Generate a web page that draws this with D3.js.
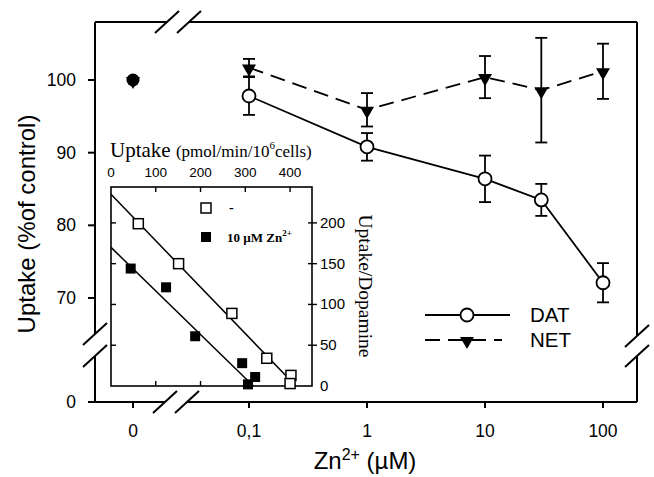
<!DOCTYPE html>
<html>
<head>
<meta charset="utf-8">
<title>Zn2+ uptake</title>
<script src="https://d3js.org/d3.v7.min.js"></script>
<style>
  body { margin: 0; background: #fff; }
  text { fill: #000; }
</style>
</head>
<body>
<div id="chart"></div>
<script>
// ---- data ----
const conc = [0.1, 1, 10, 30, 100];
const datMean = [97.8, 90.8, 86.4, 83.5, 72.1];
const datErr  = [2.6, 1.9, 3.2, 2.2, 2.7];
const netMean = [101.7, 95.9, 100.4, 98.6, 101.2];
const netErr  = [1.2, 2.3, 2.9, 7.2, 3.8];
const controlValue = 100;   // plotted at Zn = 0

const yTicks = [70, 80, 90, 100];
const xTicks = [0.1, 1, 10, 100];
const xTickLabels = ["0,1", "1", "10", "100"];

// inset: Eadie-Hofstee plot
const openUptake   = [61, 151, 270, 348, 402, 400];
const openRatio    = [199, 150, 89, 34, 13, 3];
const filledUptake = [44, 123, 188, 293, 322, 306];
const filledRatio  = [144, 121, 61, 28, 11, 2];
const openFit   = [[0, 235], [413, 0]];
const filledFit = [[0, 170], [318, 0]];
const insetXTicks = [0, 100, 200, 300, 400];
const insetYTicks = [0, 50, 100, 150, 200];

// ---- layout ----
const W = 654, H = 477;
const pLeft = 95, pRight = 637, pTop = 22, pBottom = 402;
const xZero = 133;

const svg = d3.select("#chart").append("svg")
  .attr("width", W).attr("height", H);

const x = d3.scaleLog().domain([0.1, 100]).range([249, 603]);
const y = d3.scaleLinear().domain([70, 100]).range([298, 80]);
const sans = "'Liberation Sans', Arial, sans-serif";
const serif = "'Liberation Serif', 'Times New Roman', serif";

// frame with breaks
const frame = svg.append("g").attr("stroke", "#000").attr("stroke-width", 2).attr("fill", "none");
const segs = [
  [[pLeft, pBottom], [pLeft, 356]], [[pLeft, 334], [pLeft, pTop]],
  [[pLeft, pTop], [167, pTop]], [[189, pTop], [pRight, pTop]],
  [[pRight, pTop], [pRight, 336]], [[pRight, 356], [pRight, pBottom]],
  [[88, pBottom], [165, pBottom]], [[187, pBottom], [pRight, pBottom]]
];
segs.forEach(s => frame.append("line")
  .attr("x1", s[0][0]).attr("y1", s[0][1]).attr("x2", s[1][0]).attr("y2", s[1][1]));
const breaks = [[167, pTop], [189, pTop], [165, pBottom], [187, pBottom],
                [pLeft, 334], [pLeft, 356], [pRight, 336], [pRight, 356]];
breaks.forEach(c => frame.append("line")
  .attr("x1", c[0] - 12).attr("y1", c[1] + 11).attr("x2", c[0] + 12).attr("y2", c[1] - 11));

// y ticks
const yAxis = svg.append("g");
yTicks.forEach(t => {
  yAxis.append("line").attr("x1", 88).attr("x2", pLeft).attr("y1", y(t)).attr("y2", y(t))
    .attr("stroke", "#000").attr("stroke-width", 2);
  yAxis.append("text").attr("x", 76).attr("y", y(t) + 6).attr("text-anchor", "end")
    .attr("font-family", sans).attr("font-size", 17.5).text(t);
});
yAxis.append("text").attr("x", 76).attr("y", pBottom + 6).attr("text-anchor", "end")
  .attr("font-family", sans).attr("font-size", 17.5).text("0");

// x ticks
const xAxis = svg.append("g");
[[xZero, "0"]].concat(xTicks.map((t, i) => [x(t), xTickLabels[i]])).forEach(d => {
  xAxis.append("line").attr("x1", d[0]).attr("x2", d[0]).attr("y1", pBottom).attr("y2", pBottom + 6)
    .attr("stroke", "#000").attr("stroke-width", 2);
  xAxis.append("text").attr("x", d[0]).attr("y", 437).attr("text-anchor", "middle")
    .attr("font-family", sans).attr("font-size", 17.5).text(d[1]);
});

// axis titles
svg.append("text").attr("transform", "translate(35,224) rotate(-90)")
  .attr("text-anchor", "middle").attr("font-family", sans).attr("font-size", 24)
  .text("Uptake (%of control)");
const xl = svg.append("text").attr("x", 365).attr("y", 469).attr("text-anchor", "middle")
  .attr("font-family", sans).attr("font-size", 24);
xl.append("tspan").text("Zn");
xl.append("tspan").attr("dy", -9).attr("font-size", 16).text("2+");
xl.append("tspan").attr("dy", 9).text(" (\u00b5M)");

// ---- inset ----
const ix = d3.scaleLinear().domain([0, 449]).range([111, 312]);
const iy = d3.scaleLinear().domain([0, 244]).range([386, 187]);
const inset = svg.append("g");
inset.append("rect").attr("x", 111).attr("y", 187).attr("width", 201).attr("height", 199)
  .attr("fill", "#fff").attr("stroke", "#000").attr("stroke-width", 1.6);

insetXTicks.forEach(t => {
  if (t > 0) {
    inset.append("line").attr("x1", ix(t)).attr("x2", ix(t)).attr("y1", 187).attr("y2", 192)
      .attr("stroke", "#000").attr("stroke-width", 1.4);
    inset.append("line").attr("x1", ix(t)).attr("x2", ix(t)).attr("y1", 386).attr("y2", 381)
      .attr("stroke", "#000").attr("stroke-width", 1.4);
  }
  inset.append("text").attr("x", ix(t)).attr("y", 177).attr("text-anchor", "middle")
    .attr("font-family", sans).attr("font-size", 13.5).text(t);
});
insetYTicks.forEach(t => {
  if (t > 0) {
    inset.append("line").attr("x1", 111).attr("x2", 116).attr("y1", iy(t)).attr("y2", iy(t))
      .attr("stroke", "#000").attr("stroke-width", 1.4);
    inset.append("line").attr("x1", 308).attr("x2", 317).attr("y1", iy(t)).attr("y2", iy(t))
      .attr("stroke", "#000").attr("stroke-width", 1.4);
  }
  inset.append("text").attr("x", 320).attr("y", iy(t) + 5)
    .attr("font-family", sans).attr("font-size", 15).text(t);
});

const it = inset.append("text").attr("x", 110).attr("y", 157).attr("font-family", serif).attr("font-size", 21);
it.append("tspan").text("Uptake ");
it.append("tspan").attr("font-size", 17).text("(pmol/min/10");
it.append("tspan").attr("font-size", 11).attr("dy", -8).text("6");
it.append("tspan").attr("font-size", 17).attr("dy", 8).text("cells)");

inset.append("text").attr("transform", "translate(359,286) rotate(90)")
  .attr("text-anchor", "middle").attr("font-family", serif).attr("font-size", 19.5)
  .text("Uptake/Dopamine");

const fitLine = d3.line().x(d => ix(d[0])).y(d => iy(d[1]));
[openFit, filledFit].forEach(f => inset.append("path").attr("d", fitLine(f))
  .attr("fill", "none").attr("stroke", "#000").attr("stroke-width", 1.5));

const sq = 10;
inset.selectAll(".fsq").data(d3.zip(filledUptake, filledRatio)).enter().append("rect")
  .attr("x", d => ix(d[0]) - sq / 2).attr("y", d => iy(d[1]) - sq / 2)
  .attr("width", sq).attr("height", sq).attr("fill", "#000");
inset.selectAll(".osq").data(d3.zip(openUptake, openRatio)).enter().append("rect")
  .attr("x", d => ix(d[0]) - sq / 2).attr("y", d => iy(d[1]) - sq / 2)
  .attr("width", sq).attr("height", sq).attr("fill", "#fff").attr("stroke", "#000").attr("stroke-width", 1.5);

// inset legend
inset.append("rect").attr("x", 201).attr("y", 203).attr("width", sq).attr("height", sq)
  .attr("fill", "#fff").attr("stroke", "#000").attr("stroke-width", 1.5);
inset.append("rect").attr("x", 201).attr("y", 232).attr("width", sq).attr("height", sq).attr("fill", "#000");
inset.append("text").attr("x", 229).attr("y", 212).attr("font-family", serif)
  .attr("font-weight", "bold").attr("font-size", 14).text("-");
const lt = inset.append("text").attr("x", 227).attr("y", 242).attr("font-family", serif)
  .attr("font-weight", "bold").attr("font-size", 13);
lt.append("tspan").text("10 \u00b5M Zn");
lt.append("tspan").attr("font-size", 9).attr("dy", -6).text("2+");

// ---- main series ----
const line = d3.line().x(d => x(d[0])).y(d => y(d[1]));
const datPts = d3.zip(conc, datMean, datErr);
const netPts = d3.zip(conc, netMean, netErr);

svg.append("path").attr("d", line(datPts)).attr("fill", "none")
  .attr("stroke", "#000").attr("stroke-width", 1.8);
svg.append("path").attr("d", line(netPts)).attr("fill", "none")
  .attr("stroke", "#000").attr("stroke-width", 1.8).attr("stroke-dasharray", "15,8");

function errBars(pts) {
  const g = svg.append("g").attr("stroke", "#000").attr("stroke-width", 1.8);
  pts.forEach(d => {
    const cx = x(d[0]), y1 = y(d[1] - d[2]), y2 = y(d[1] + d[2]);
    g.append("line").attr("x1", cx).attr("x2", cx).attr("y1", y1).attr("y2", y2);
    g.append("line").attr("x1", cx - 6).attr("x2", cx + 6).attr("y1", y1).attr("y2", y1);
    g.append("line").attr("x1", cx - 6).attr("x2", cx + 6).attr("y1", y2).attr("y2", y2);
  });
}
errBars(datPts);
errBars(netPts);

const tri = d3.symbol().type(d3.symbolTriangle).size(85);
svg.selectAll(".dat").data(datPts).enter().append("circle")
  .attr("cx", d => x(d[0])).attr("cy", d => y(d[1])).attr("r", 6.5)
  .attr("fill", "#fff").attr("stroke", "#000").attr("stroke-width", 1.8);
svg.selectAll(".net").data(netPts).enter().append("path")
  .attr("d", tri).attr("transform", d => `translate(${x(d[0])},${y(d[1]) + 1}) rotate(180)`)
  .attr("fill", "#000");

// control point (both transporters at 100 %)
svg.append("circle").attr("cx", xZero).attr("cy", y(controlValue)).attr("r", 6.5).attr("fill", "#000");
svg.append("path").attr("d", tri).attr("transform", `translate(${xZero},${y(controlValue) + 1}) rotate(180)`)
  .attr("fill", "#000");

// ---- legend ----
const lg = svg.append("g");
lg.append("line").attr("x1", 425).attr("x2", 510).attr("y1", 315).attr("y2", 315)
  .attr("stroke", "#000").attr("stroke-width", 1.8);
lg.append("circle").attr("cx", 467).attr("cy", 315).attr("r", 6.5)
  .attr("fill", "#fff").attr("stroke", "#000").attr("stroke-width", 1.8);
lg.append("line").attr("x1", 425).attr("x2", 502).attr("y1", 340).attr("y2", 340)
  .attr("stroke", "#000").attr("stroke-width", 1.8).attr("stroke-dasharray", "15,8");
lg.append("path").attr("d", tri).attr("transform", "translate(467,341) rotate(180)").attr("fill", "#000");
lg.append("text").attr("x", 530).attr("y", 322).attr("font-family", sans).attr("font-size", 20.5).text("DAT");
lg.append("text").attr("x", 530).attr("y", 347).attr("font-family", sans).attr("font-size", 20.5).text("NET");
</script>
</body>
</html>
